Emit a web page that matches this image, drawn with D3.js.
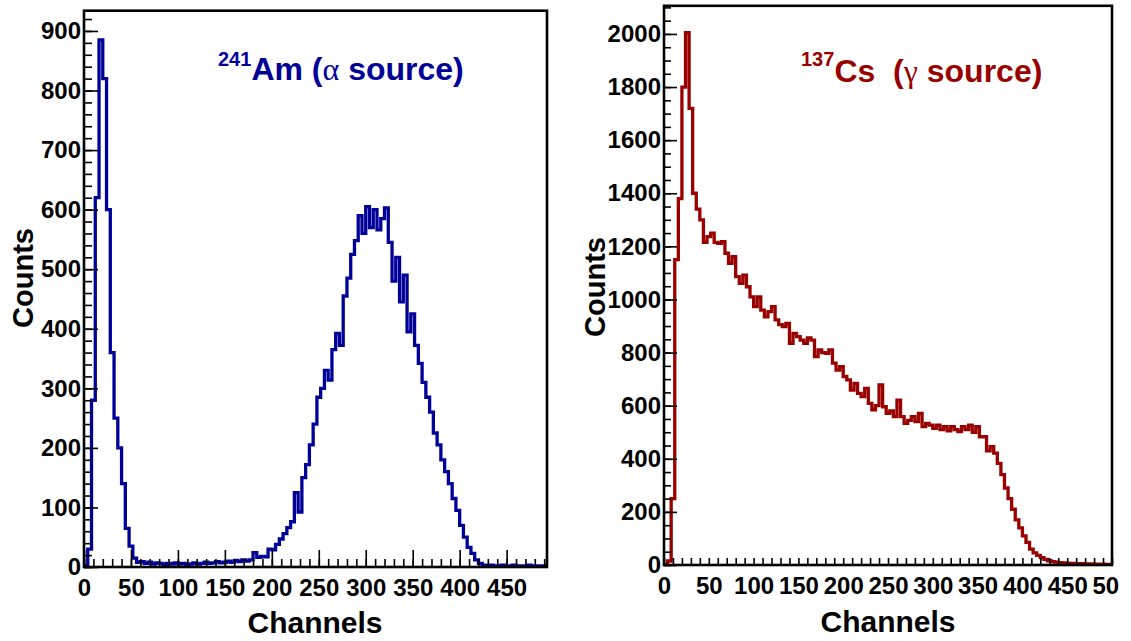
<!DOCTYPE html>
<html>
<head>
<meta charset="utf-8">
<script src="https://cdn.jsdelivr.net/npm/d3@7"></script>
<style>
  body { margin: 0; background: #fff; }
  svg { display: block; }
  text { font-family: "Liberation Sans", Arial, sans-serif; font-weight: bold; }
</style>
</head>
<body>
<svg id="chart" width="1131" height="641"></svg>
<script>
// channels are binned 4 per bin
var BIN = 4;

// 241Am spectrum, counts per bin (0..492)
var amCounts = [
  2, 30, 280, 620, 885, 820, 600, 360, 250, 200,
  140, 65, 35, 15, 8, 9, 6, 8, 5, 7,
  6, 4, 6, 5, 7, 5, 6, 4, 5, 7,
  5, 6, 8, 6, 7, 9, 7, 8, 10, 8,
  11, 9, 12, 10, 12, 24, 16, 18, 17, 30,
  29, 38, 47, 56, 66, 76, 125, 92, 150, 172,
  205, 240, 285, 300, 330, 314, 365, 392, 372, 455,
  485, 525, 548, 590, 560, 605, 570, 600, 566, 585,
  603, 545, 480, 520, 445, 490, 395, 425, 372, 342,
  310, 285, 260, 225, 205, 180, 160, 140, 115, 95,
  70, 50, 33, 23, 12, 6, 3, 2, 3, 2,
  2, 3, 2, 2, 3, 2, 2, 2, 3, 2,
  2, 2, 2
];

// 137Cs spectrum, counts per bin (0..500)
var csCounts = [
  0, 15, 250, 1150, 1380, 1800, 2005, 1720, 1400, 1340,
  1300, 1215, 1237, 1250, 1215, 1211, 1218, 1174, 1136, 1161,
  1086, 1061, 1092, 1048, 1010, 973, 1010, 960, 935, 954,
  973, 923, 905, 898, 910, 835, 872, 860, 847, 835,
  855, 847, 785, 810, 800, 797, 810, 760, 734, 747,
  710, 697, 659, 684, 646, 634, 665, 609, 584, 600,
  678, 596, 571, 580, 559, 621, 559, 533, 545, 559,
  540, 571, 521, 533, 527, 515, 527, 510, 521, 505,
  521, 510, 502, 521, 510, 527, 500, 521, 483, 483,
  430, 446, 421, 383, 340, 290, 250, 210, 170, 140,
  110, 85, 60, 46, 36, 28, 21, 16, 13, 11,
  9, 8, 7, 6, 6, 5, 5, 4, 4, 4,
  3, 3, 3, 2, 2
];

var amXTicks = [0, 50, 100, 150, 200, 250, 300, 350, 400, 450];
var amYTicks = [0, 100, 200, 300, 400, 500, 600, 700, 800, 900];
var csXTicks = [0, 50, 100, 150, 200, 250, 300, 350, 400, 450, 500];
var csYTicks = [0, 200, 400, 600, 800, 1000, 1200, 1400, 1600, 1800, 2000];

var svg = d3.select("#chart");
svg.append("rect").attr("width", 1131).attr("height", 641).attr("fill", "#fff");

function drawPanel(p) {
  var x = d3.scaleLinear().domain(p.xDomain).range([p.left, p.right]);
  var y = d3.scaleLinear().domain(p.yDomain).range([p.bottom, p.top]);
  var g = svg.append("g");

  var clipId = "clip-" + p.id;
  svg.append("clipPath").attr("id", clipId)
    .append("rect")
    .attr("x", p.left).attr("y", p.top)
    .attr("width", p.right - p.left).attr("height", p.bottom - p.top);

  // histogram as steps
  var pts = p.counts.map(function(v, i) { return [i * BIN, v]; });
  pts.push([p.counts.length * BIN, p.counts[p.counts.length - 1]]);
  var line = d3.line()
    .x(function(d) { return x(d[0]); })
    .y(function(d) { return y(d[1]); })
    .curve(d3.curveStepAfter);
  g.append("path")
    .attr("d", line(pts))
    .attr("clip-path", "url(#" + clipId + ")")
    .attr("fill", "none")
    .attr("stroke", p.color)
    .attr("stroke-width", 3.3)
    .attr("stroke-linejoin", "miter");

  // minor ticks
  var xMinor = d3.range(0, p.xDomain[1] + 0.001, p.xMinorStep);
  var yMinor = d3.range(0, p.yDomain[1] + 0.001, p.yMinorStep);
  g.append("g")
    .attr("transform", "translate(0," + p.bottom + ")")
    .call(d3.axisBottom(x).tickValues(xMinor).tickSize(-p.xMinorLen).tickFormat(""));
  g.append("g")
    .attr("transform", "translate(" + p.left + ",0)")
    .call(d3.axisLeft(y).tickValues(yMinor).tickSize(-p.yMinorLen).tickFormat(""));

  // major ticks + labels
  var xa = g.append("g")
    .attr("transform", "translate(0," + p.bottom + ")")
    .call(d3.axisBottom(x).tickValues(p.xTicks).tickSize(-p.xMajorLen).tickPadding(12).tickFormat(d3.format("d")));
  if (p.xLabelClip) {
    svg.append("clipPath").attr("id", clipId + "-xl")
      .append("rect").attr("x", 0).attr("y", 0).attr("width", p.xLabelClip).attr("height", 641);
    xa.attr("clip-path", "url(#" + clipId + "-xl)");
  }
  g.append("g")
    .attr("transform", "translate(" + p.left + ",0)")
    .call(d3.axisLeft(y).tickValues(p.yTicks).tickSize(-p.yMajorLen).tickPadding(3).tickFormat(d3.format("d")));

  g.selectAll(".domain").remove();
  g.selectAll(".tick line").attr("stroke", "#000").attr("stroke-width", 1.6);
  g.selectAll(".tick text")
    .attr("fill", "#000")
    .style("font-size", "24px")
    .style("font-family", "'Liberation Sans', Arial, sans-serif")
    .style("font-weight", "bold");

  // frame
  g.append("rect")
    .attr("x", p.left).attr("y", p.top)
    .attr("width", p.right - p.left).attr("height", p.bottom - p.top)
    .attr("fill", "none").attr("stroke", "#000").attr("stroke-width", 2.6);

  // axis titles
  g.append("text")
    .attr("x", p.xTitleX).attr("y", p.xTitleY)
    .attr("text-anchor", "middle")
    .style("font-size", "30px")
    .text("Channels");
  g.append("text")
    .attr("transform", "translate(" + p.yTitleX + "," + p.yTitleY + ") rotate(-90)")
    .attr("text-anchor", "middle")
    .style("font-size", "29px")
    .text("Counts");

  // source label
  var t = g.append("text")
    .attr("x", p.labelX).attr("y", p.labelY)
    .attr("fill", p.color)
    .style("white-space", "pre")
    .style("font-size", "32px");
  t.append("tspan").attr("dy", -p.supRise).style("font-size", "20px").text(p.isotope);
  t.append("tspan").attr("dy", p.supRise).text(p.element + " (");
  t.append("tspan")
    .style("font-family", "'Liberation Serif', 'DejaVu Serif', serif")
    .style("font-weight", "normal")
    .text(p.greek);
  t.append("tspan").text(" source)");
}

drawPanel({
  id: "am", counts: amCounts, color: "#000099",
  left: 84, right: 547, top: 10.7, bottom: 567,
  xDomain: [0, 493], yDomain: [0, 934],
  xTicks: amXTicks, yTicks: amYTicks,
  xMinorStep: 10, yMinorStep: 20,
  xMajorLen: 17, xMinorLen: 8, yMajorLen: 14, yMinorLen: 8,
  xTitleX: 315, xTitleY: 633, yTitleX: 33, yTitleY: 278,
  labelX: 218, labelY: 80, supRise: 14,
  isotope: "241", element: "Am", greek: "\u03b1"
});

drawPanel({
  id: "cs", counts: csCounts, color: "#990000",
  left: 664, right: 1112, top: 5.8, bottom: 565,
  xDomain: [0, 500], yDomain: [0, 2106],
  xTicks: csXTicks, yTicks: csYTicks,
  xMinorStep: 10, yMinorStep: 50,
  xMajorLen: 15, xMinorLen: 7, yMajorLen: 13, yMinorLen: 7,
  xTitleX: 888, xTitleY: 632, yTitleX: 605, yTitleY: 287,
  labelX: 801, labelY: 82, supRise: 16,
  isotope: "137", element: "Cs ", greek: "\u03b3",
  xLabelClip: 1119
});
</script>
</body>
</html>
